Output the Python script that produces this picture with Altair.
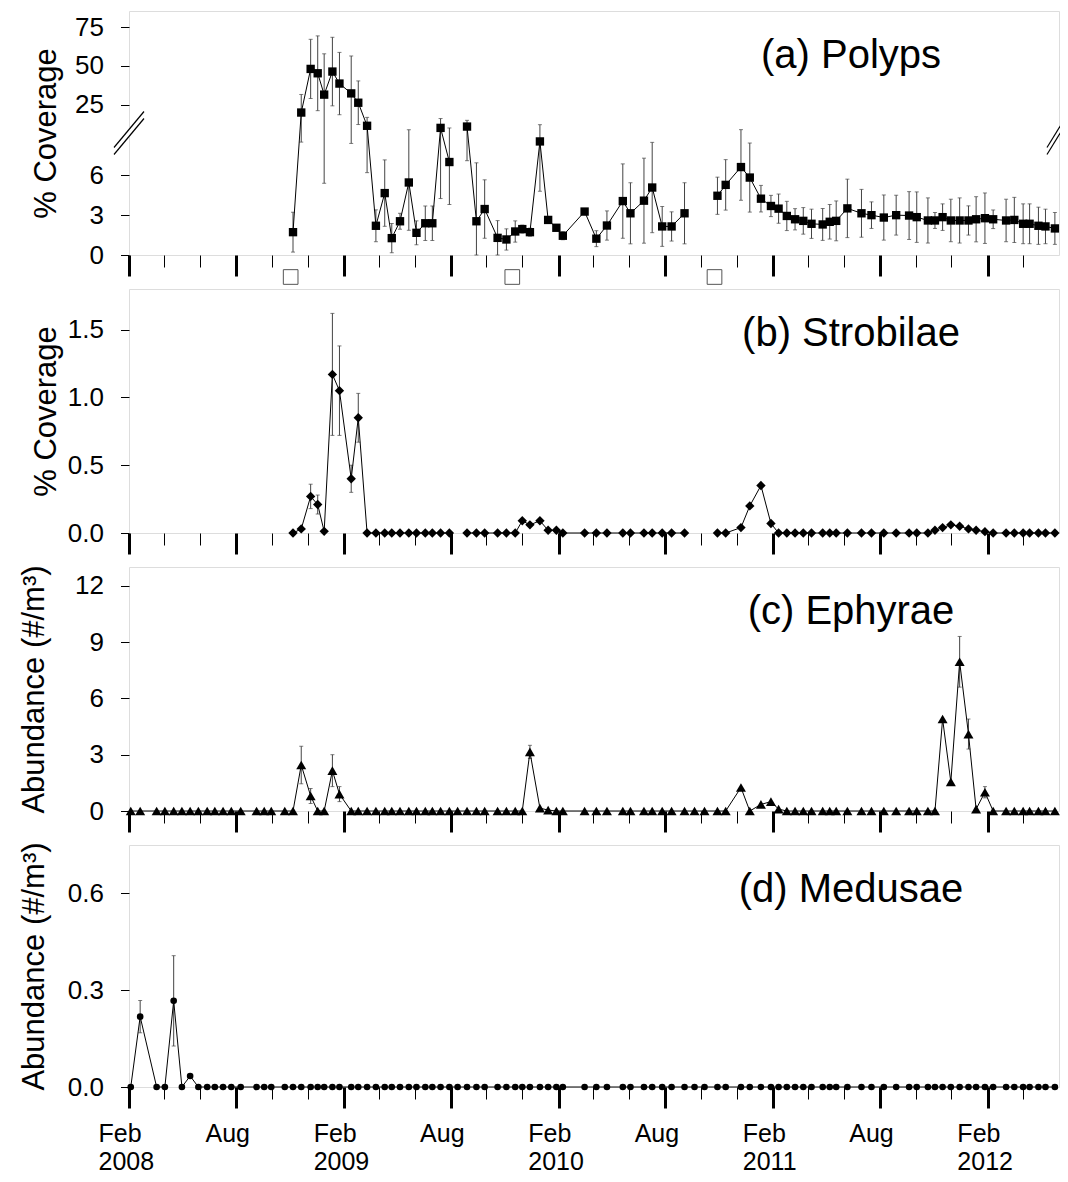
import altair as alt
import pandas as pd
from datetime import datetime, timezone

# ---------------- data ----------------
dates = [
    "2008-02-04", "2008-02-20", "2008-03-19", "2008-04-02", "2008-04-17",
    "2008-05-01", "2008-05-15", "2008-05-29", "2008-06-13", "2008-06-26",
    "2008-07-10", "2008-07-24", "2008-08-09", "2008-09-05", "2008-09-18",
    "2008-09-30", "2008-10-23",
    "2008-11-06", "2008-11-20", "2008-12-06", "2008-12-18", "2008-12-29",
    "2009-01-12", "2009-01-24", "2009-02-13", "2009-02-25", "2009-03-12",
    "2009-03-27", "2009-04-11", "2009-04-23", "2009-05-07", "2009-05-22",
    "2009-06-04", "2009-06-19", "2009-07-01", "2009-07-15", "2009-07-30",
    "2009-08-13", "2009-08-29", "2009-09-14", "2009-09-28", "2009-10-20",
    "2009-11-04", "2009-11-19", "2009-12-01", "2009-12-14", "2009-12-31",
    "2010-01-14", "2010-01-28", "2010-02-08", "2010-03-17", "2010-04-06",
    "2010-04-24", "2010-05-21", "2010-06-03", "2010-06-26", "2010-07-10",
    "2010-07-27", "2010-08-12", "2010-09-03", "2010-09-20", "2010-10-07",
    "2010-10-29", "2010-11-12", "2010-12-08", "2010-12-23", "2011-01-11",
    "2011-01-28", "2011-02-10", "2011-02-24", "2011-03-10", "2011-03-24",
    "2011-04-07", "2011-04-26", "2011-05-08", "2011-05-19", "2011-06-07",
    "2011-07-01", "2011-07-18", "2011-08-08", "2011-08-29", "2011-09-20",
    "2011-10-03", "2011-10-22", "2011-11-03", "2011-11-16", "2011-11-30",
    "2011-12-15", "2011-12-30", "2012-01-12", "2012-01-27", "2012-02-10",
    "2012-03-03", "2012-03-17", "2012-04-01", "2012-04-12", "2012-04-27",
    "2012-05-09", "2012-05-25",
]

polyps = [
    None, None, None, None, None, None, None, None, None, None,
    None, None, None, None, None, None, None,
    1.72, 20.1, 48.1, 45.3, 31.6,
    46.4, 38.7, 32.4, 26.4, 11.6,
    2.20, 4.66, 1.27, 2.54, 5.46,
    1.67, 2.39, 2.39, 10.25, 7.00,
    None, 11.1, 2.54, 3.46, 1.29,
    1.17, 1.77, 1.95, 1.72, 8.55,
    2.64, 2.05, 1.45, 3.27, 1.23,
    2.22, 4.06, 3.14, 4.09, 5.08,
    2.15, 2.15, 3.14, None, None,
    4.46, 5.28, 6.62, 5.83, 4.24,
    3.69, 3.49, 2.94, 2.69, 2.57,
    2.35, 2.30, 2.50, 2.57, 3.51,
    3.14, 3.00, 2.82, 3.00, 2.97,
    2.85, 2.60, 2.60, 2.85, 2.60,
    2.60, 2.60, 2.69, 2.77, 2.69,
    2.60, 2.64, 2.35, 2.35, 2.20,
    2.15, 2.00,
]
polyps_se = [
    None, None, None, None, None, None, None, None, None, None,
    None, None, None, None, None, None, None,
    1.5, 11.6, 19.0, 24.0, 26.2,
    22.0, 20.0, 24.0, 14.0, 5.4,
    1.2, 2.5, 1.1, 0.6, 3.6,
    0.9, 1.3, 1.3, 6.0, 3.2,
    None, 4.0, 4.4, 2.2, 1.3,
    0.8, 0.8, 0.3, 0.3, 3.75,
    0.0, 0.0, 0.3, 0.0, 0.6,
    1.1, 2.8, 2.3, 3.2, 3.4,
    1.5, 1.1, 2.3, None, None,
    1.4, 1.9, 2.5, 2.6, 1.0,
    0.8, 1.1, 1.1, 0.8, 1.0,
    1.1, 1.2, 1.3, 1.5, 2.2,
    1.8, 1.0, 1.7, 1.5, 1.8,
    1.9, 1.7, 0.6, 1.0, 1.6,
    1.7, 1.1, 1.7, 1.9, 0.7,
    1.6, 1.7, 1.5, 1.5, 1.4,
    1.3, 1.2,
]

strobilae = [
    None, None, None, None, None, None, None, None, None, None,
    None, None, None, None, None, None, None,
    0.00, 0.03, 0.27, 0.21, 0.012,
    1.17, 1.05, 0.40, 0.85, 0.00,
    0.00, 0.00, 0.00, 0.00, 0.00,
    0.00, 0.00, 0.00, 0.00, 0.00,
    None, 0.00, 0.00, 0.00, 0.00,
    0.00, 0.00, 0.09, 0.06, 0.09,
    0.02, 0.02, 0.00, 0.00, 0.00,
    0.00, 0.00, 0.00, 0.00, 0.00,
    0.00, 0.00, 0.00, None, None,
    0.00, 0.00, 0.04, 0.20, 0.35,
    0.07, 0.00, 0.00, 0.00, 0.00,
    0.00, 0.00, 0.00, 0.00, 0.00,
    0.00, 0.00, 0.00, 0.00, 0.00,
    0.00, 0.00, 0.02, 0.04, 0.06,
    0.05, 0.03, 0.02, 0.01, 0.00,
    0.00, 0.00, 0.00, 0.00, 0.00,
    0.00, 0.00,
]
strobilae_se = [
    None, None, None, None, None, None, None, None, None, None,
    None, None, None, None, None, None, None,
    0, 0, 0.09, 0.07, 0,
    0.45, 0.33, 0.10, 0.18, 0,
    0, 0, 0, 0, 0,
    0, 0, 0, 0, 0,
    None, 0, 0, 0, 0,
    0, 0, 0, 0, 0,
    0, 0, 0, 0, 0,
    0, 0, 0, 0, 0,
    0, 0, 0, None, None,
    0, 0, 0, 0, 0,
    0, 0, 0, 0, 0,
    0, 0, 0, 0, 0,
    0, 0, 0, 0, 0,
    0, 0, 0, 0, 0,
    0, 0, 0, 0, 0,
    0, 0, 0, 0, 0,
    0, 0,
]

ephyrae = [
    0, 0, 0, 0, 0, 0, 0, 0, 0, 0,
    0, 0, 0, 0, 0, 0, 0,
    0, 2.45, 0.80, 0, 0,
    2.15, 0.90, 0, 0, 0,
    0, 0, 0, 0, 0,
    0, 0, 0, 0, 0,
    0, 0, 0, 0, 0,
    0, 0, 0, 3.15, 0.15,
    0.05, 0, 0, 0, 0,
    0, 0, 0, 0, 0,
    0, 0, 0, 0, 0,
    0, 0, 1.25, 0, 0.35,
    0.50, 0.10, 0, 0, 0,
    0, 0, 0, 0, 0,
    0, 0, 0, 0, 0,
    0, 0, 0, 4.90, 1.55,
    7.95, 4.10, 0.10, 1.00, 0,
    0, 0, 0, 0, 0,
    0, 0,
]
ephyrae_se = [
    0, 0, 0, 0, 0, 0, 0, 0, 0, 0,
    0, 0, 0, 0, 0, 0, 0,
    0, 1.0, 0.4, 0, 0,
    0.85, 0.4, 0, 0, 0,
    0, 0, 0, 0, 0,
    0, 0, 0, 0, 0,
    0, 0, 0, 0, 0,
    0, 0, 0, 0.35, 0,
    0, 0, 0, 0, 0,
    0, 0, 0, 0, 0,
    0, 0, 0, 0, 0,
    0, 0, 0, 0, 0,
    0, 0, 0, 0, 0,
    0, 0, 0, 0, 0,
    0, 0, 0, 0, 0,
    0, 0, 0, 0, 0,
    1.35, 0.8, 0, 0.3, 0,
    0, 0, 0, 0, 0,
    0, 0,
]

medusae = [
    0, 0.218, 0, 0, 0.267, 0, 0.034, 0, 0, 0,
    0, 0, 0, 0, 0, 0, 0,
    0, 0, 0, 0, 0,
    0, 0, 0, 0, 0,
    0, 0, 0, 0, 0,
    0, 0, 0, 0, 0,
    0, 0, 0, 0, 0,
    0, 0, 0, 0, 0,
    0, 0, 0, 0, 0,
    0, 0, 0, 0, 0,
    0, 0, 0, 0, 0,
    0, 0, 0, 0, 0,
    0, 0, 0, 0, 0,
    0, 0, 0, 0, 0,
    0, 0, 0, 0, 0,
    0, 0, 0, 0, 0,
    0, 0, 0, 0, 0,
    0, 0, 0, 0, 0,
    0, 0,
]
medusae_se = [
    0, 0.05, 0, 0, 0.14, 0, 0, 0, 0, 0,
    0, 0, 0, 0, 0, 0, 0,
    0, 0, 0, 0, 0,
    0, 0, 0, 0, 0,
    0, 0, 0, 0, 0,
    0, 0, 0, 0, 0,
    0, 0, 0, 0, 0,
    0, 0, 0, 0, 0,
    0, 0, 0, 0, 0,
    0, 0, 0, 0, 0,
    0, 0, 0, 0, 0,
    0, 0, 0, 0, 0,
    0, 0, 0, 0, 0,
    0, 0, 0, 0, 0,
    0, 0, 0, 0, 0,
    0, 0, 0, 0, 0,
    0, 0, 0, 0, 0,
    0, 0, 0, 0, 0,
    0, 0,
]

plate_dates = ["2008-11-02", "2009-11-14", "2010-10-24"]

panel_labels = ["(a) Polyps", "(b) Strobilae", "(c) Ephyrae", "(d) Medusae"]
y_titles = ["% Coverage", "% Coverage", "Abundance (#/m\u00b3)", "Abundance (#/m\u00b3)"]

for arr in (polyps, polyps_se, strobilae, strobilae_se, ephyrae, ephyrae_se, medusae, medusae_se):
    assert len(arr) == len(dates)

# ---------------- layout / style ----------------
FONT = "Liberation Sans"
W = 930
X_START, X_END = "2008-02-01", "2012-06-01"

# broken axis for panel (a): 0-9 linear, then compressed section holding 25..75
LOWER_TOP = 9.0
UPPER_T0 = 11.30
UPPER_V0 = 25.0
UPPER_K = 0.1173


def brk(v):
    return v if v <= LOWER_TOP else UPPER_T0 + (v - UPPER_V0) * UPPER_K


def ms(s):
    return int(datetime.strptime(s, "%Y-%m-%d").replace(tzinfo=timezone.utc).timestamp() * 1000)


tick_ms = []
yy, mm = 2008, 2
while (yy, mm) <= (2012, 4):
    tick_ms.append(ms(f"{yy:04d}-{mm:02d}-01"))
    mm += 2
    if mm > 12:
        mm -= 12
        yy += 1

MAJOR = "utcmonth(datum.value) == 1 || utcmonth(datum.value) == 7"
X_LABEL = ("utcmonth(datum.value) == 1 ? ['Feb', utcFormat(datum.value, '%Y')] : "
           "(utcmonth(datum.value) == 7 ? 'Aug' : '')")


def build(values, ses, transform=None):
    f = transform or (lambda v: v)
    rows = []
    seg = 0
    for d, v, s in zip(dates, values, ses):
        if v is None:
            seg += 1
            continue
        s = s or 0.0
        lo = max(v - s, 0.0)
        hi = v + s
        rows.append({"date": d, "v": v, "y": f(v), "lo": f(lo), "hi": f(hi), "se": s, "seg": seg})
    return pd.DataFrame(rows)


def x_enc(show_labels):
    ax = dict(values=tick_ms, title=None, grid=False, domain=False, ticks=True,
              tickColor="black",
              tickSize={"condition": {"test": MAJOR, "value": 21}, "value": 12},
              tickWidth={"condition": {"test": MAJOR, "value": 3}, "value": 1},
              labels=show_labels)
    if show_labels:
        ax.update(labelExpr=X_LABEL, labelFont=FONT, labelFontSize=25, labelColor="black",
                  labelAlign="left", labelOffset=-31, labelPadding=13, labelLineHeight=28,
                  labelOverlap=False, labelFlush=False, labelBaseline="top")
    return alt.X("date:T",
                 scale=alt.Scale(type="utc", domain=[ms(X_START), ms(X_END)], nice=False),
                 axis=alt.Axis(**ax))


def y_axis(values, title, title_x, h, fmt=None, expr=None):
    ax = dict(values=values, title=title, grid=False, domain=False,
              tickColor="black", tickSize=8.5, tickWidth=1,
              labelFont=FONT, labelFontSize=26, labelColor="black", labelPadding=17,
              labelOverlap=False, labelFlush=False,
              titleFont=FONT, titleFontSize=31, titleFontWeight="normal", titleColor="black",
              titleX=title_x, titleY=h / 2, titleAngle=270, titleAlign="center",
              titleBaseline="alphabetic")
    if fmt:
        ax["format"] = fmt
    if expr:
        ax["labelExpr"] = expr
    return alt.Axis(**ax)


def one_row():
    return pd.DataFrame({"k": [0]})


def seg_rule(x1, y1, x2, y2, color, width):
    return alt.Chart(one_row()).mark_rule(color=color, strokeWidth=width, strokeCap="butt").encode(
        x=alt.value(x1), y=alt.value(y1), x2=alt.value(x2), y2=alt.value(y2))


def panel(values, ses, shape, size, y_domain, axis, label, h, transform=None,
          show_x_labels=False, extras=()):
    df = build(values, ses, transform)
    x = x_enc(show_x_labels)
    ys = alt.Scale(domain=y_domain, nice=False, zero=False)

    def Y(f):
        return alt.Y(f, scale=ys, axis=axis)

    base = alt.Chart(df)
    with_se = base.transform_filter("datum.se > 0")
    bars = with_se.mark_rule(color="#444", strokeWidth=1).encode(x=x, y=Y("lo:Q"), y2="hi:Q")
    cap_hi = with_se.mark_tick(orient="horizontal", size=4, thickness=1, color="#444").encode(x=x, y=Y("hi:Q"))
    cap_lo = with_se.mark_tick(orient="horizontal", size=4, thickness=1, color="#444").encode(x=x, y=Y("lo:Q"))
    line = base.mark_line(color="black", strokeWidth=1).encode(x=x, y=Y("y:Q"), detail="seg:N")
    pts = base.mark_point(shape=shape, size=size, filled=True, color="black", opacity=1).encode(x=x, y=Y("y:Q"))
    txt = alt.Chart(pd.DataFrame({"t": [label]})).mark_text(
        font=FONT, fontSize=40, color="black", align="center", baseline="middle"
    ).encode(x=alt.value(722), y=alt.value(45), text="t:N")
    extra_layers = [e(x) for e in extras]
    return alt.layer(bars, cap_hi, cap_lo, line, pts, *extra_layers, txt).properties(width=W, height=h)


HA = 244


# panel (a) extras: plate markers under the axis and axis-break symbols
def plates_layer(x):
    return alt.Chart(pd.DataFrame({"date": plate_dates})).mark_point(
        shape="square", size=215, filled=True, fill="white", stroke="#555", strokeWidth=1, opacity=1
    ).encode(x=x, y=alt.value(HA + 22))


def break_layers():
    out = []
    c = 122
    out.append(seg_rule(-15, c + 18, 15, c - 18, "white", 6))
    out.append(seg_rule(-15, c + 18 - 3.5, 15, c - 18 - 3.5, "black", 1.2))
    out.append(seg_rule(-15, c + 18 + 3.5, 15, c - 18 + 3.5, "black", 1.2))
    c2 = 126
    out.append(seg_rule(W - 12, c2 + 14, W + 4, c2 - 12, "white", 5))
    out.append(seg_rule(W - 12, c2 + 14 - 3.5, W + 4, c2 - 12 - 3.5, "black", 1.2))
    out.append(seg_rule(W - 12, c2 + 14 + 3.5, W + 4, c2 - 12 + 3.5, "black", 1.2))
    return out


a_ticks_upper = [25, 50, 75]
a_values = [0, 3, 6] + [brk(v) for v in a_ticks_upper]
a_expr = (f"datum.value < {LOWER_TOP} ? format(datum.value, 'd') : "
          f"format(round({UPPER_V0} + (datum.value - {UPPER_T0}) / {UPPER_K}), 'd')")

brk_layers = break_layers()
pa = panel(polyps, polyps_se, "square", 70, [0, 18.37],
           y_axis(a_values, y_titles[0], -74, HA, expr=a_expr), panel_labels[0], HA,
           transform=brk,
           extras=[plates_layer] + [(lambda x, l=l: l) for l in brk_layers])
pb = panel(strobilae, strobilae_se, "diamond", 88, [0, 1.8],
           y_axis([0, 0.5, 1.0, 1.5], y_titles[1], -74, 244, fmt=".1f"), panel_labels[1], 244)
pc = panel(ephyrae, ephyrae_se, "triangle-up", 100, [0, 13],
           y_axis([0, 3, 6, 9, 12], y_titles[2], -86, 244, fmt="d"), panel_labels[2], 244)
pd_ = panel(medusae, medusae_se, "circle", 44, [0, 0.75],
            y_axis([0, 0.3, 0.6], y_titles[3], -86, 242, fmt=".1f"), panel_labels[3], 242,
            show_x_labels=True)

chart = alt.vconcat(pa, pb, pc, pd_, spacing=34, bounds="flush").properties(
    padding={"left": 9, "top": 2, "right": -6, "bottom": -1}
).configure_view(stroke="black", strokeWidth=1).configure(background="white")

chart.save("out.html", embed_options={"renderer": "svg", "actions": False})
